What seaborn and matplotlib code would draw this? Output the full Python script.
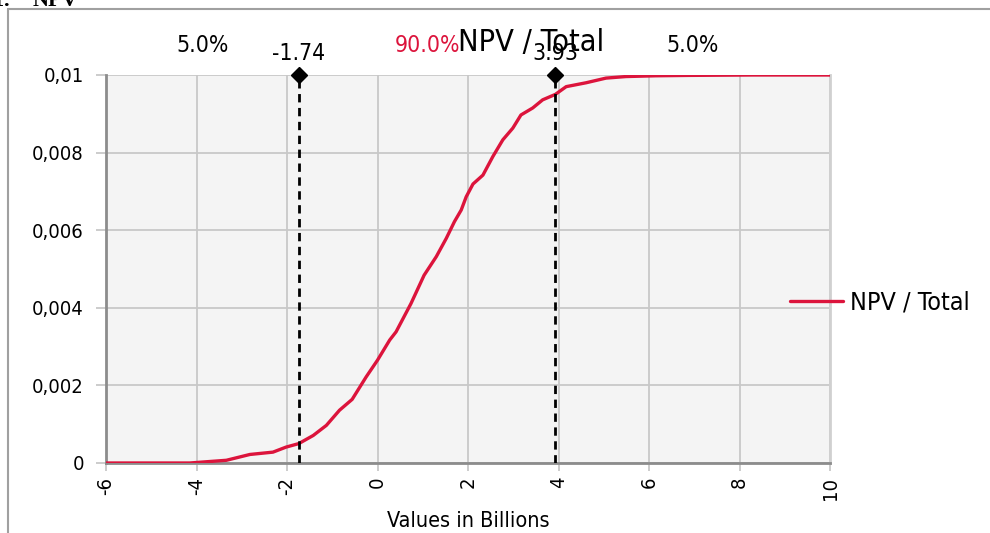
import matplotlib
matplotlib.use("Agg")
import matplotlib.pyplot as plt
import matplotlib.transforms as mtransforms
import seaborn as sns
import pandas as pd
from matplotlib.lines import Line2D

# Cumulative distribution of NPV (values in billions)
npv_values = [-6.0, -4.15, -3.92, -3.34, -2.82, -2.31, -2.02, -1.74, -1.42, -1.13,
              -0.84, -0.56, -0.25, 0.0, 0.27, 0.41, 0.74, 1.03, 1.30, 1.52,
              1.70, 1.85, 1.96, 2.11, 2.33, 2.55, 2.77, 2.99, 3.17, 3.43,
              3.65, 3.93, 4.17, 4.61, 5.05, 5.49, 6.15, 6.89, 8.3, 10.0]
cum_prob = [0.0, 0.0, 0.00002, 0.00007, 0.00022, 0.00028, 0.00041, 0.0005, 0.00071, 0.00097,
            0.00136, 0.00164, 0.00222, 0.00265, 0.00317, 0.00338, 0.00411, 0.00484, 0.00532, 0.00579,
            0.00622, 0.00652, 0.00686, 0.00719, 0.00742, 0.0079, 0.00833, 0.00863, 0.00897, 0.00915,
            0.00936, 0.0095, 0.0097, 0.0098, 0.00992, 0.00996, 0.00998, 0.00999, 0.01, 0.01]

series_name = "NPV / Total"
markers_x = [-1.74, 3.93]
marker_labels = ["-1.74", "3.93"]
band_labels = ["5.0%", "90.0%", "5.0%"]

x_ticks = [-6, -4, -2, 0, 2, 4, 6, 8, 10]
y_ticks = [0, 0.002, 0.004, 0.006, 0.008, 0.01]
y_tick_labels = ["0", "0,002", "0,004", "0,006", "0,008", "0,01"]

sns.set_theme(style="white")
plt.rcParams["font.family"] = ["DejaVu Sans"]
plt.rcParams["font.stretch"] = "condensed"
plt.rcParams["text.color"] = "black"

RED = "#dc143c"
GRID = "#c8c8c8"
AXIS = "#8c8c8c"
FS = 14.5

W, H = 990, 533
fig = plt.figure(figsize=(W / 100, H / 100), dpi=100)
fig.patch.set_facecolor("white")

def fx(px):
    return px / W

def fy(py):
    return 1 - py / H

ax = fig.add_axes([fx(106), fy(463), fx(830) - fx(106), fy(75) - fy(463)])
ax.set_facecolor("#f4f4f4")

df = pd.DataFrame({"value": npv_values, "prob": cum_prob})
sns.lineplot(data=df, x="value", y="prob", ax=ax, color=RED, linewidth=2.4,
             label=series_name, legend=False, zorder=3, sort=False)

# percentile markers
ax.vlines(markers_x, 0, 0.01, colors="black", linestyles=(0, (3, 2)), linewidth=2, zorder=4)
ax.plot(markers_x, [0.01, 0.01], linestyle="none", marker="D", color="black",
        markersize=8, zorder=5, clip_on=False)

ax.set_xlim(-6, 10)
ax.set_ylim(0, 0.01)
ax.set_xticks(x_ticks)
ax.set_xticklabels([str(v) for v in x_ticks], rotation=90, fontsize=FS)
ax.set_yticks(y_ticks)
ax.set_yticklabels(y_tick_labels, fontsize=FS)
ax.grid(True, color=GRID, linewidth=1.3)
ax.set_axisbelow(True)

for side in ["left", "bottom"]:
    ax.spines[side].set_color(AXIS)
    ax.spines[side].set_linewidth(2)
ax.spines["top"].set_visible(False)
ax.spines["right"].set_color("#d0d0d0")
ax.spines["right"].set_linewidth(2)
ax.tick_params(axis="both", which="major", direction="out", length=7, width=1.3,
               color=GRID, labelcolor="black")
ax.tick_params(axis="y", pad=9)
ax.tick_params(axis="x", pad=4, length=6)
ax.tick_params(left=True, bottom=True)

ax.set_xlabel("Values in Billions", fontsize=15.5, labelpad=8, color="black")
ax.set_ylabel("")

# percentile labels above the plot
blend = mtransforms.blended_transform_factory(ax.transData, fig.transFigure)
band_x = [(-6 + markers_x[0]) / 2, (markers_x[0] + markers_x[1]) / 2, (markers_x[1] + 10) / 2]
band_colors = ["black", RED, "black"]
for bx, lab, col in zip(band_x, band_labels, band_colors):
    fig.text(bx, fy(46), lab, transform=blend, ha="center", va="center",
             fontsize=16.5, color=col)
for mx, lab in zip(markers_x, marker_labels):
    fig.text(mx, fy(54), lab, transform=blend, ha="center", va="center",
             fontsize=16.5, color="black")

fig.text(fx(531), fy(51), series_name, ha="center", va="baseline", fontsize=22, color="black")

# legend to the right of the plot area
handle = Line2D([], [], color=RED, linewidth=2.4)
fig.legend([handle], [series_name], loc="center left", bbox_to_anchor=(fx(790), fy(303)),
           frameon=False, fontsize=18, handlelength=2.12, handletextpad=0.28,
           borderpad=0, borderaxespad=0, labelcolor="black")

# outer chart frame
fig.add_artist(Line2D([fx(8), fx(8)], [0, fy(9)], transform=fig.transFigure,
                      color="#a0a0a0", linewidth=1.5))
fig.add_artist(Line2D([fx(8), 1], [fy(9), fy(9)], transform=fig.transFigure,
                      color="#a0a0a0", linewidth=1.5))

# heading above the chart frame
serif = ["Liberation Serif", "DejaVu Serif"]
fig.text(fx(11), fy(6), "1:", ha="right", va="baseline", fontsize=16,
         fontweight="bold", family=serif, fontstretch="normal")
fig.text(fx(33), fy(6), "NPV", ha="left", va="baseline", fontsize=16,
         fontweight="bold", family=serif, fontstretch="normal")

fig.savefig("out.png", dpi=100, facecolor="white")
